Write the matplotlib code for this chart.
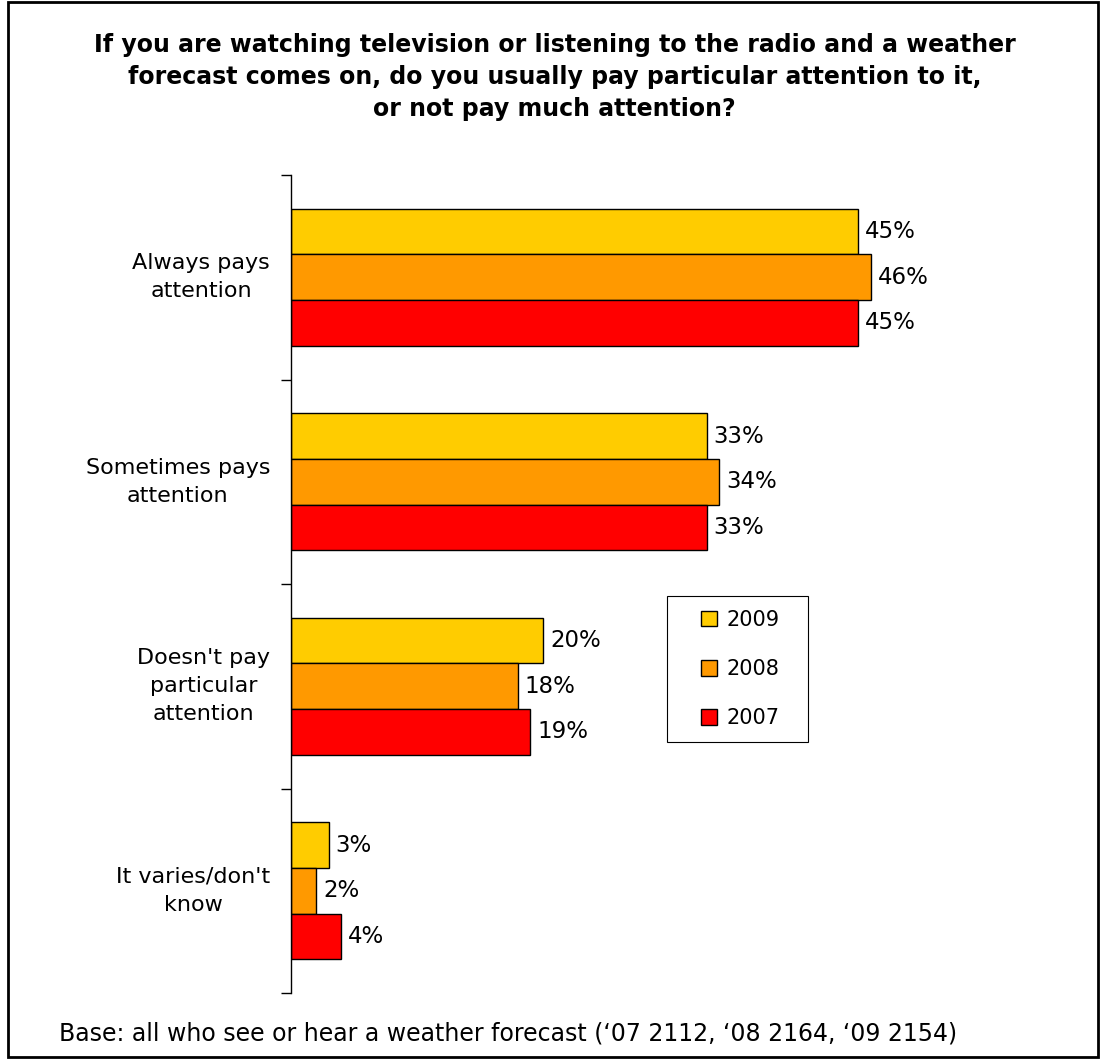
import matplotlib.pyplot as plt
from matplotlib.patches import Patch, Rectangle
import numpy as np

categories = ["Always pays\nattention", "Sometimes pays\nattention",
              "Doesn't pay\nparticular\nattention", "It varies/don't\nknow"]
years = ["2009", "2008", "2007"]
values_2009 = [45, 33, 20, 3]
values_2008 = [46, 34, 18, 2]
values_2007 = [45, 33, 19, 4]
colors = ["#FFCC00", "#FF9900", "#FF0000"]

title = ("If you are watching television or listening to the radio and a weather\n"
         "forecast comes on, do you usually pay particular attention to it,\n"
         "or not pay much attention?")
footnote = "Base: all who see or hear a weather forecast (\u201807 2112, \u201808 2164, \u201809 2154)"

plt.rcParams['font.family'] = ['DejaVu Sans']

W, H = 1109, 1059
fig = plt.figure(figsize=(W / 100, H / 100), dpi=100)
# axes: left spine at x=291px, spans y=175..993px
ax = fig.add_axes([291 / W, (H - 993) / H, 0.75, (993 - 175) / H])

series = [values_2009, values_2008, values_2007]
bar_h = 0.2235
centers = np.arange(len(categories)) + 0.5
for i, (vals, col) in enumerate(zip(series, colors)):
    ypos = centers + (i - 1) * bar_h
    ax.barh(ypos, vals, height=bar_h, color=col, edgecolor="black", linewidth=1.0)
    for y, v in zip(ypos, vals):
        ax.annotate(f"{v}%", (v, y), xytext=(5, 0), textcoords="offset points",
                    va="center", ha="left", fontsize=16.5)

ax.set_ylim(len(categories), 0)
# 12.6 px per percentage point
ax.set_xlim(0, 0.75 * W / 12.6)
ax.set_yticks(np.arange(len(categories) + 1))
ax.set_yticklabels([])
ax.tick_params(axis="y", length=7, width=1, direction="out")
ax.set_xticks([])
for s in ["top", "right", "bottom"]:
    ax.spines[s].set_visible(False)
ax.spines["left"].set_linewidth(1)

# category labels: block right-aligned near the axis, lines centred
for y, lab in zip(centers, categories):
    ax.text(-21 / (0.75 * W), y, lab, transform=ax.get_yaxis_transform(), ha="right",
            multialignment="center", va="center", fontsize=16, linespacing=1.5)

# legend box with entries inside
fig.patches.append(Rectangle((667 / W, 1 - 742 / H), 141 / W, 146 / H, transform=fig.transFigure,
                             fill=False, edgecolor="black", linewidth=0.8))
handles = [Patch(facecolor=c, edgecolor="black", linewidth=1) for c in colors]
fig.legend(handles, years, loc="upper left", bbox_to_anchor=(701 / W, 1 - 610 / H),
           fontsize=15, frameon=False, handlelength=0.75, handleheight=0.75,
           handletextpad=0.45, labelspacing=1.4, borderpad=0, borderaxespad=0)

fig.text(0.5, 1 - 77 / H, title, ha="center", va="center", fontsize=17,
         fontweight="bold", linespacing=1.42)
fig.text(59 / W, 1 - 1034 / H, footnote, ha="left", va="center", fontsize=17)

fig.patches.append(Rectangle((8 / W, 2 / H), (1098 - 8) / W, (1057 - 2) / H,
                             transform=fig.transFigure, fill=False, edgecolor="black",
                             linewidth=2))

fig.savefig("out.png", dpi=100)
